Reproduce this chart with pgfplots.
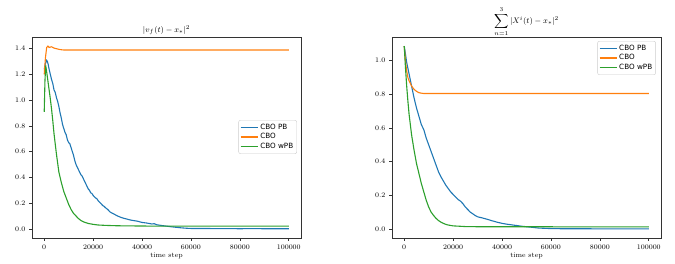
\documentclass[border=0pt]{standalone}
\usepackage{pgfplots}
\pgfplotsset{compat=1.18}
\usepackage{fontspec}
\newfontfamily\legendfont{DejaVu Sans}
\definecolor{tabblue}{HTML}{1F77B4}
\definecolor{taborange}{HTML}{FF7F0E}
\definecolor{tabgreen}{HTML}{2CA02C}
\pgfplotsset{
  every axis title shift=0pt,
  mystyle/.style={
    scale only axis, width=269pt, height=201pt,
    xmin=-5000, xmax=105000,
    axis line style={draw=black!80, line width=0.6pt},
    tick style={draw=black!80, line width=0.6pt},
    tick align=outside, tick pos=left, major tick length=3pt,
    xtick={0,20000,40000,60000,80000,100000},
    scaled x ticks=false, scaled y ticks=false,
    xticklabel style={/pgf/number format/.cd, fixed, 1000 sep={}},
    yticklabel style={/pgf/number format/.cd, fixed, fixed zerofill, precision=1},
    tick label style={font=\fontsize{7}{8}\selectfont},
    label style={font=\fontsize{7}{8}\selectfont},
    title style={font=\fontsize{8}{9.5}\selectfont},
    xlabel={time step},
    xlabel style={yshift=3pt},
    legend cell align=left,
    legend image post style={line width=1.1pt},
    legend style={font=\legendfont\fontsize{7.2}{9}\selectfont, draw=black!20, rounded corners=2pt,
      fill=white, inner sep=1.5pt, row sep=-1pt},
    every axis plot/.append style={line width=1.1pt},
  }
}
\begin{document}
\begin{tikzpicture}[x=1pt,y=1pt]
\useasboundingbox (0,0) rectangle (675,264);
\begin{axis}[mystyle, at={(32pt,26pt)}, anchor=south west,
  ymin=-0.071, ymax=1.491, ytick={0,0.2,0.4,0.6,0.8,1.0,1.2,1.4},
  title={$|v_f(t)-x_*|^2$}, title style={at={(0.5,1.035)}, anchor=center},
  legend style={at={(0.985,0.587)}, anchor=north east}]
\addplot[tabblue] coordinates {
(0,1.24) (300,1.27) (600,1.29) (1000,1.31) (1300,1.30) (1600,1.28) (2000,1.24) (2500,1.20)
(3000,1.16) (3500,1.13) (4000,1.08) (4500,1.06) (5000,1.02) (5500,0.99) (6000,0.95) (6500,0.90)
(7000,0.86) (7500,0.81) (8000,0.78) (8500,0.75) (9000,0.73) (9500,0.69) (10000,0.67) (10500,0.66)
(11000,0.63) (11500,0.60) (12000,0.57) (12500,0.53) (13000,0.50) (13500,0.48) (14000,0.46)
(14500,0.44) (15000,0.42) (15500,0.41) (16000,0.39) (16500,0.37) (17000,0.35) (17500,0.33)
(18000,0.31) (18500,0.30) (19000,0.28) (19500,0.275) (20000,0.26) (20500,0.25) (21000,0.24)
(21500,0.235) (22000,0.22) (22500,0.21) (23000,0.20) (23500,0.19) (24000,0.18) (24500,0.175)
(25000,0.165) (26000,0.15) (27000,0.13) (28000,0.12) (29000,0.11) (30000,0.10) (31000,0.092)
(32000,0.085) (33000,0.080) (34000,0.075) (35000,0.070) (36000,0.066) (37000,0.063) (38000,0.060)
(39000,0.055) (40000,0.050) (42000,0.045) (44000,0.038) (45000,0.040) (46000,0.032) (48000,0.026)
(50000,0.021) (52000,0.016) (54000,0.012) (56000,0.008) (58000,0.005) (60000,0.003) (65000,0.003)
(70000,0.002) (75000,0.002) (80000,0.001) (85000,0.002) (90000,0.001) (95000,0.001) (100000,0.001)
};
\addlegendentry{CBO PB}
\addplot[taborange] coordinates {
(0,1.20) (500,1.33) (1000,1.41) (1500,1.42) (2000,1.41) (3000,1.415) (4000,1.405) (5000,1.40)
(6000,1.395) (7000,1.392) (8000,1.39) (20000,1.39) (50000,1.39) (100000,1.39)
};
\addlegendentry{CBO}
\addplot[tabgreen] coordinates {
(0,0.91) (300,1.15) (600,1.27) (1000,1.22) (1500,1.15) (2000,1.08) (2500,1.01) (3000,0.93)
(3500,0.84) (4000,0.74) (4500,0.66) (5000,0.58) (5500,0.51) (6000,0.44) (6500,0.40) (7000,0.36)
(8000,0.29) (9000,0.24) (10000,0.19) (11000,0.15) (12000,0.12) (13000,0.10) (14000,0.08)
(15000,0.065) (16000,0.055) (17000,0.048) (18000,0.042) (20000,0.035) (22000,0.030) (25000,0.027)
(30000,0.024) (40000,0.022) (50000,0.021) (100000,0.021)
};
\addlegendentry{CBO wPB}
\end{axis}
\begin{axis}[mystyle, at={(392pt,26pt)}, anchor=south west,
  ymin=-0.054, ymax=1.141, ytick={0,0.2,0.4,0.6,0.8,1.0},
  title={$\displaystyle\sum_{n=1}^{3}|X^i(t)-x_*|^2$}, title style={at={(0.5,1.075)}, anchor=center},
  legend style={at={(0.981,0.980)}, anchor=north east}]
\addplot[tabblue] coordinates {
(0,1.087) (500,1.04) (1000,0.99) (2000,0.92) (3000,0.85) (4000,0.78) (5000,0.72) (6000,0.67)
(7000,0.62) (8000,0.59) (9000,0.54) (10000,0.50) (11000,0.46) (12000,0.42) (13000,0.38)
(14000,0.34) (15000,0.31) (16000,0.285) (17000,0.26) (18000,0.24) (19000,0.22) (20000,0.205)
(21000,0.19) (22000,0.175) (23000,0.165) (24000,0.15) (25000,0.13) (26000,0.115) (27000,0.10)
(28000,0.09) (29000,0.08) (30000,0.072) (32000,0.065) (34000,0.057) (36000,0.048) (38000,0.040)
(40000,0.033) (42000,0.028) (44000,0.024) (46000,0.020) (48000,0.016) (50000,0.013) (52000,0.010)
(55000,0.005) (60000,0.002) (65000,0.001) (100000,0.0)
};
\addlegendentry{CBO PB}
\addplot[taborange] coordinates {
(0,1.087) (500,1.00) (1000,0.94) (1500,0.90) (2000,0.88) (3000,0.85) (4000,0.83) (5000,0.818)
(6000,0.81) (7000,0.807) (8000,0.805) (50000,0.805) (100000,0.805)
};
\addlegendentry{CBO}
\addplot[tabgreen] coordinates {
(0,1.087) (500,0.96) (1000,0.85) (1500,0.76) (2000,0.68) (3000,0.56) (4000,0.47) (5000,0.39)
(6000,0.33) (7000,0.27) (8000,0.22) (9000,0.17) (10000,0.13) (11000,0.10) (12000,0.08)
(13000,0.063) (14000,0.05) (15000,0.04) (16000,0.033) (17000,0.027) (18000,0.023) (20000,0.018)
(25000,0.014) (30000,0.013) (100000,0.012)
};
\addlegendentry{CBO wPB}
\end{axis}
\end{tikzpicture}
\end{document}
